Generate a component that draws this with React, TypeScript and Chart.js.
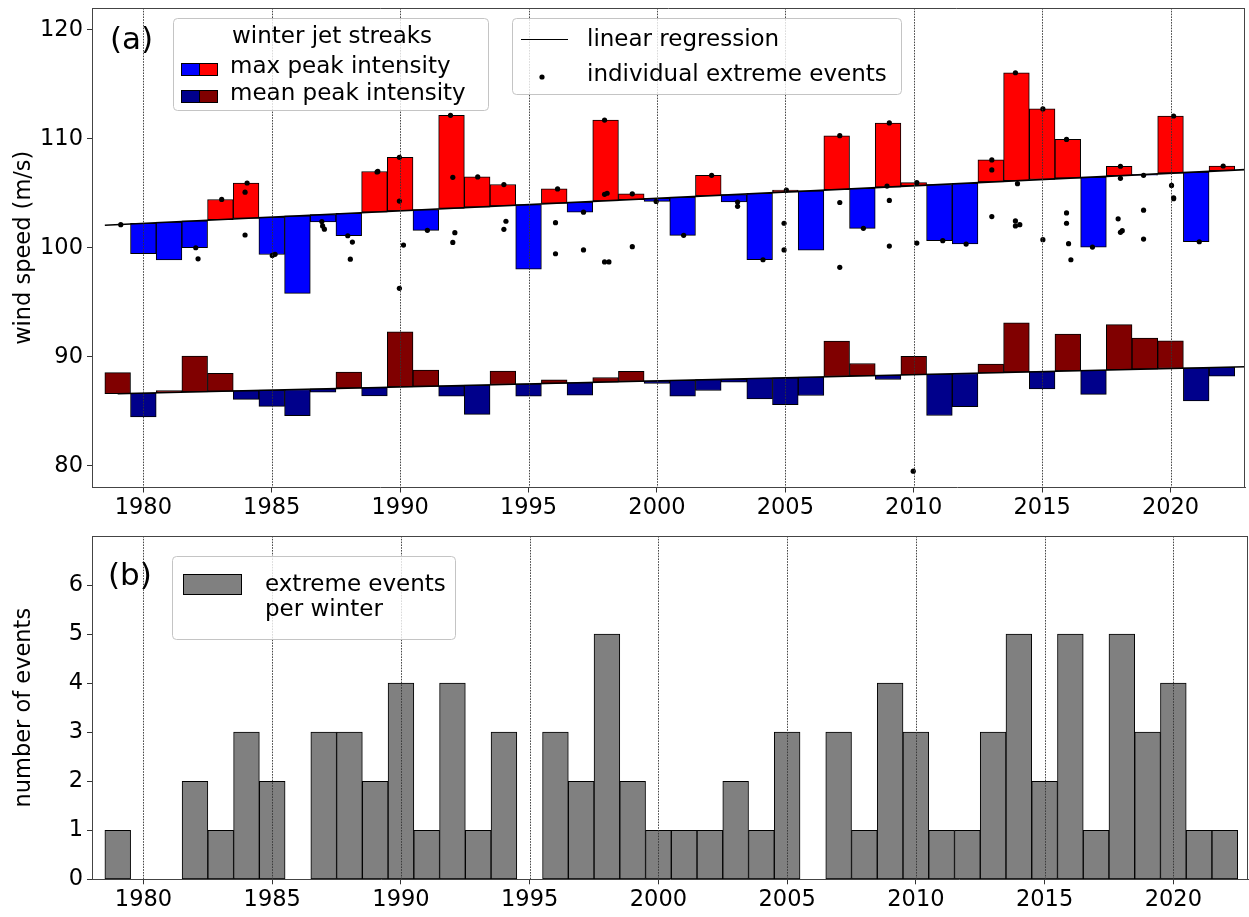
import React, { useEffect, useRef } from "react";
import { Chart, registerables } from "chart.js";

Chart.register(...registerables);

// ---------------- data ----------------
const years = [
  1979, 1980, 1981, 1982, 1983, 1984, 1985, 1986, 1987, 1988,
  1989, 1990, 1991, 1992, 1993, 1994, 1995, 1996, 1997, 1998,
  1999, 2000, 2001, 2002, 2003, 2004, 2005, 2006, 2007, 2008,
  2009, 2010, 2011, 2012, 2013, 2014, 2015, 2016, 2017, 2018,
  2019, 2020, 2021, 2022,
];

const maxPeakIntensity = [
  102.12, 99.45, 98.89, 100.0, 104.43, 105.94, 99.38, 95.82, 102.37, 101.1,
  107.0, 108.3, 101.6, 112.15, 106.5, 105.8, 98.03, 105.4, 103.26, 111.72,
  104.95, 104.25, 101.14, 106.65, 104.2, 98.9, 105.3, 99.78, 110.28, 101.78,
  111.45, 105.97, 100.65, 100.34, 108.06, 116.06, 112.74, 109.94, 100.06, 107.48,
  106.65, 112.09, 100.55, 107.5,
];

const meanPeakIntensity = [
  88.54, 84.47, 86.9, 90.06, 88.48, 86.08, 85.44, 84.59, 86.75, 88.6,
  86.41, 92.28, 88.78, 86.38, 84.71, 88.69, 86.38, 87.87, 86.47, 88.09,
  88.66, 87.55, 86.38, 86.9, 87.67, 86.12, 85.61, 86.44, 91.43, 89.38,
  87.91, 90.04, 84.61, 85.41, 89.33, 93.1, 87.05, 92.08, 86.55, 92.94,
  91.71, 91.46, 85.94, 88.22,
];

const eventsPerWinter = [
  1, 0, 0, 2, 1, 3, 2, 0, 3, 3,
  2, 4, 1, 4, 1, 3, 0, 3, 2, 5,
  2, 1, 1, 1, 2, 1, 3, 0, 3, 1,
  4, 3, 1, 1, 3, 5, 2, 5, 1, 5,
  3, 4, 1, 1,
];

// individual extreme events: time (winter, fractional) and wind speed
const eventTime = [
  1979.12,
  1982.04, 1982.13,
  1983.05,
  1984.04, 1983.96, 1983.96,
  1985.02, 1985.13,
  1986.95, 1986.98, 1987.05,
  1987.96, 1988.14, 1988.06,
  1989.13, 1989.1,
  1989.97, 1989.97, 1990.13, 1989.97,
  1991.06,
  1991.96, 1992.05, 1992.13, 1992.05,
  1993.02,
  1994.04, 1994.12, 1994.04,
  1996.13, 1996.05, 1996.05,
  1997.14, 1997.14,
  1997.96, 1997.96, 1998.06, 1997.96, 1998.13,
  1999.04, 1999.04,
  1999.97,
  2001.04,
  2002.13,
  2003.14, 2003.14,
  2004.13,
  2005.04, 2004.95, 2004.95,
  2007.12, 2007.12, 2007.12,
  2008.04,
  2009.05, 2008.96, 2009.05, 2009.05,
  2010.12, 2010.12, 2009.98,
  2011.13,
  2012.04,
  2013.04, 2013.04, 2013.04,
  2013.96, 2014.04, 2013.96, 2013.96, 2014.13,
  2015.03, 2015.03,
  2015.95, 2015.95, 2015.95, 2016.03, 2016.12,
  2016.96,
  2018.05, 2018.05, 2017.96, 2018.05, 2018.12,
  2018.95, 2018.95, 2018.95,
  2020.12, 2020.04, 2020.12, 2020.12,
  2021.12,
  2022.05,
];

const eventSpeed = [
  102.12,
  100.0, 98.98,
  104.43,
  105.94, 105.1, 101.17,
  99.3, 99.4,
  102.4, 102.0, 101.7,
  101.1, 100.52, 98.95,
  107.0, 106.95,
  108.3, 104.28, 100.25, 96.28,
  101.6,
  112.15, 106.46, 101.38, 100.49,
  106.5,
  105.8, 102.43, 101.69,
  105.4, 102.3, 99.45,
  103.26, 99.8,
  111.72, 104.9, 105.0, 98.7, 98.7,
  104.95, 100.1,
  104.25,
  101.14,
  106.65,
  104.2, 103.8,
  98.9,
  105.3, 102.25, 99.8,
  110.28, 104.15, 98.2,
  101.78,
  111.45, 105.66, 104.34, 100.15,
  105.97, 100.43, 79.5,
  100.65,
  100.34,
  108.06, 107.14, 102.86,
  116.06, 105.88, 102.46, 102.0, 102.12,
  112.74, 100.74,
  109.94, 103.2, 102.25, 100.37, 98.9,
  100.06,
  107.48, 106.37, 102.65, 101.42, 101.57,
  106.65, 103.45, 100.8,
  112.09, 105.72, 104.58, 104.5,
  100.55,
  107.5,
];

// linear regression lines
const trendBaseYear = 1979;
const maxTrendIntercept = 102.12;
const maxTrendSlope = 0.115;
const maxTrendStart = 1978.5;
const meanTrendIntercept = 86.6;
const meanTrendSlope = 0.0565;
const meanTrendStart = 1979;

// ticks
const xTickYears = [1980, 1985, 1990, 1995, 2000, 2005, 2010, 2015, 2020];
const speedTicks = [80, 90, 100, 110, 120];
const countTicks = [0, 1, 2, 3, 4, 5, 6];

// ---------------- styles ----------------
const FONT = '"DejaVu Sans", "Liberation Sans", sans-serif';
const TICK_SIZE = 22.5;
const LEGEND_SIZE = 23;
const W = 1249;
const TOP_H = 520;
const BOT_H = 397;
const AXIS_LEFT = 92;
const X_MIN = 1978;
const X_MAX = 2022.9;

const RED = "#ff0000";
const BLUE = "#0000ff";
const DARK_RED = "#800000";
const DARK_BLUE = "#00008b";
const GRAY = "#808080";
const SPINE = "#444444";

const maxTrend = (y: number) => maxTrendIntercept + maxTrendSlope * (y - trendBaseYear);
const meanTrend = (y: number) => meanTrendIntercept + meanTrendSlope * (y - trendBaseYear);

function legendFrame(ctx: CanvasRenderingContext2D, x: number, y: number, w: number, h: number) {
  ctx.save();
  ctx.beginPath();
  (ctx as any).roundRect(x + 0.5, y + 0.5, w, h, 4);
  ctx.fillStyle = "rgba(255,255,255,0.8)";
  ctx.fill();
  ctx.strokeStyle = "#c4c4c4";
  ctx.lineWidth = 1;
  ctx.stroke();
  ctx.restore();
}

function patch(ctx: CanvasRenderingContext2D, x: number, y: number, w: number, h: number, color: string) {
  ctx.fillStyle = color;
  ctx.fillRect(x, y, w, h);
  ctx.strokeStyle = "#000";
  ctx.lineWidth = 1;
  ctx.strokeRect(x + 0.5, y + 0.5, w - 1, h - 1);
}

function gridLines(chart: any) {
  const { ctx, chartArea: a, scales } = chart;
  const x = scales.x;
  ctx.save();
  ctx.beginPath();
  ctx.rect(a.left, a.top, a.right - a.left, a.bottom - a.top);
  ctx.clip();
  ctx.strokeStyle = "#333";
  ctx.lineWidth = 0.9;
  ctx.setLineDash([1.6, 1.2]);
  for (const t of xTickYears) {
    const px = Math.round(x.getPixelForValue(t)) + 0.5;
    ctx.beginPath();
    ctx.moveTo(px, a.top);
    ctx.lineTo(px, a.bottom);
    ctx.stroke();
  }
  ctx.restore();
}

function spines(chart: any) {
  const { ctx, chartArea: a } = chart;
  ctx.save();
  ctx.strokeStyle = SPINE;
  ctx.lineWidth = 1;
  ctx.beginPath();
  ctx.moveTo(a.left, Math.round(a.top) + 0.5);
  ctx.lineTo(a.right, Math.round(a.top) + 0.5);
  ctx.moveTo(Math.round(a.right) - 0.5, a.top);
  ctx.lineTo(Math.round(a.right) - 0.5, a.bottom);
  ctx.stroke();
  ctx.restore();
}

const topDecor = {
  id: "topDecor",
  afterDatasetsDraw(chart: any) {
    gridLines(chart);
  },
  afterDraw(chart: any) {
    const ctx: CanvasRenderingContext2D = chart.ctx;
    spines(chart);
    ctx.save();
    ctx.fillStyle = "#000";
    ctx.textBaseline = "alphabetic";
    ctx.textAlign = "left";
    ctx.font = `31px ${FONT}`;
    ctx.fillText("(a)", 110, 49);

    // legend 1
    legendFrame(ctx, 173, 18, 315, 92);
    ctx.fillStyle = "#000";
    ctx.font = `${LEGEND_SIZE}px ${FONT}`;
    ctx.textAlign = "center";
    ctx.fillText("winter jet streaks", 332, 43);
    ctx.textAlign = "left";
    patch(ctx, 181, 63, 19, 13, BLUE);
    patch(ctx, 199, 63, 19, 13, RED);
    patch(ctx, 181, 90, 19, 13, DARK_BLUE);
    patch(ctx, 199, 90, 19, 13, DARK_RED);
    ctx.fillStyle = "#000";
    ctx.fillText("max peak intensity", 230, 73);
    ctx.fillText("mean peak intensity", 230, 100);

    // legend 2
    legendFrame(ctx, 512, 18, 389, 76);
    ctx.strokeStyle = "#000";
    ctx.lineWidth = 1.2;
    ctx.beginPath();
    ctx.moveTo(521, 39.5);
    ctx.lineTo(568, 39.5);
    ctx.stroke();
    ctx.beginPath();
    ctx.arc(542, 77, 2.6, 0, Math.PI * 2);
    ctx.fillStyle = "#000";
    ctx.fill();
    ctx.fillText("linear regression", 587, 46);
    ctx.fillText("individual extreme events", 587, 81);
    ctx.restore();
  },
};

const bottomDecor = {
  id: "bottomDecor",
  afterDatasetsDraw(chart: any) {
    gridLines(chart);
  },
  afterDraw(chart: any) {
    const ctx: CanvasRenderingContext2D = chart.ctx;
    spines(chart);
    ctx.save();
    ctx.fillStyle = "#000";
    ctx.textBaseline = "alphabetic";
    ctx.textAlign = "left";
    ctx.font = `31px ${FONT}`;
    ctx.fillText("(b)", 108, 65);

    legendFrame(ctx, 172, 36, 283, 83);
    patch(ctx, 183, 54, 59, 21, GRAY);
    ctx.fillStyle = "#000";
    ctx.font = `${LEGEND_SIZE}px ${FONT}`;
    ctx.fillText("extreme events", 265, 71);
    ctx.fillText("per winter", 265, 96);
    ctx.restore();
  },
};

function xScale(axisHeight: number) {
  return {
    type: "linear" as const,
    min: X_MIN,
    max: X_MAX,
    offset: false,
    afterBuildTicks: (s: any) => {
      s.ticks = xTickYears.map((v) => ({ value: v }));
    },
    afterFit: (s: any) => {
      s.height = axisHeight;
      s.paddingLeft = 0;
      s.paddingRight = 0;
    },
    grid: {
      display: true,
      offset: false,
      drawOnChartArea: false,
      drawTicks: true,
      tickLength: 5,
      tickColor: "#333",
      tickWidth: 1,
    },
    border: { display: true, color: SPINE, width: 1 },
    ticks: {
      color: "#000",
      font: { family: FONT, size: TICK_SIZE },
      padding: 2,
      maxRotation: 0,
      autoSkip: false,
      callback: (v: any) => String(v),
    },
  };
}

function yScale(min: number, max: number, tickVals: number[], title: string) {
  return {
    type: "linear" as const,
    min,
    max,
    afterBuildTicks: (s: any) => {
      s.ticks = tickVals.map((v) => ({ value: v }));
    },
    afterFit: (s: any) => {
      s.width = AXIS_LEFT;
      s.paddingTop = 0;
      s.paddingBottom = 0;
    },
    grid: {
      display: true,
      offset: false,
      drawOnChartArea: false,
      drawTicks: true,
      tickLength: 5,
      tickColor: "#333",
      tickWidth: 1,
    },
    border: { display: true, color: SPINE, width: 1 },
    title: {
      display: true,
      text: title,
      color: "#000",
      font: { family: FONT, size: TICK_SIZE },
      padding: { top: 11, bottom: 0 },
    },
    ticks: {
      color: "#000",
      font: { family: FONT, size: TICK_SIZE },
      padding: 4,
      autoSkip: false,
      callback: (v: any) => String(v),
    },
  };
}

export default function App() {
  const topRef = useRef<HTMLCanvasElement | null>(null);
  const botRef = useRef<HTMLCanvasElement | null>(null);

  useEffect(() => {
    if (!topRef.current || !botRef.current) return;

    const topChart = new Chart(topRef.current, {
      type: "bar",
      data: {
        datasets: [
          {
            type: "scatter",
            label: "individual extreme events",
            data: eventTime.map((t, i) => ({ x: t, y: eventSpeed[i] })),
            pointRadius: 2.6,
            pointBackgroundColor: "#000",
            pointBorderWidth: 0,
            order: 0,
          } as any,
          {
            type: "line",
            label: "linear regression (max)",
            data: [
              { x: maxTrendStart, y: maxTrend(maxTrendStart) },
              { x: X_MAX, y: maxTrend(X_MAX) },
            ],
            borderColor: "#000",
            borderWidth: 1.6,
            pointRadius: 0,
            order: 1,
          } as any,
          {
            type: "line",
            label: "linear regression (mean)",
            data: [
              { x: meanTrendStart, y: meanTrend(meanTrendStart) },
              { x: X_MAX, y: meanTrend(X_MAX) },
            ],
            borderColor: "#000",
            borderWidth: 1.6,
            pointRadius: 0,
            order: 1,
          } as any,
          {
            type: "bar",
            label: "max peak intensity",
            data: years.map((y, i) => ({ x: y, y: [maxTrend(y), maxPeakIntensity[i]] })),
            backgroundColor: years.map((y, i) => (maxPeakIntensity[i] >= maxTrend(y) ? RED : BLUE)),
            borderColor: "#000",
            borderWidth: 1,
            borderSkipped: false,
            barPercentage: 1,
            categoryPercentage: 1,
            grouped: false,
            order: 2,
          } as any,
          {
            type: "bar",
            label: "mean peak intensity",
            data: years.map((y, i) => ({ x: y, y: [meanTrend(y), meanPeakIntensity[i]] })),
            backgroundColor: years.map((y, i) => (meanPeakIntensity[i] >= meanTrend(y) ? DARK_RED : DARK_BLUE)),
            borderColor: "#000",
            borderWidth: 1,
            borderSkipped: false,
            barPercentage: 1,
            categoryPercentage: 1,
            grouped: false,
            order: 2,
          } as any,
        ],
      },
      options: {
        responsive: false,
        animation: false,
        devicePixelRatio: 1,
        events: [],
        layout: { padding: { top: 8, right: 1, left: 0, bottom: 0 } },
        plugins: { legend: { display: false }, tooltip: { enabled: false } },
        scales: {
          x: xScale(TOP_H - 487.5) as any,
          y: yScale(78, 122, speedTicks, "wind speed (m/s)") as any,
        },
      },
      plugins: [topDecor],
    });

    const botChart = new Chart(botRef.current, {
      type: "bar",
      data: {
        datasets: [
          {
            label: "extreme events per winter",
            data: years.map((y, i) => ({ x: y, y: eventsPerWinter[i] })),
            backgroundColor: GRAY,
            borderColor: "#000",
            borderWidth: 1,
            borderSkipped: false,
            barPercentage: 1,
            categoryPercentage: 1,
          } as any,
        ],
      },
      options: {
        responsive: false,
        animation: false,
        devicePixelRatio: 1,
        events: [],
        layout: { padding: { top: 16, right: 1, left: 0, bottom: 0 } },
        plugins: { legend: { display: false }, tooltip: { enabled: false } },
        scales: {
          x: xScale(BOT_H - 359.3) as any,
          y: yScale(0, 7, countTicks, "number of events") as any,
        },
      },
      plugins: [bottomDecor],
    });

    return () => {
      topChart.destroy();
      botChart.destroy();
    };
  }, []);

  return (
    <div
      style={{
        position: "absolute",
        left: 0,
        top: 0,
        width: W,
        height: TOP_H + BOT_H,
        background: "#fff",
        overflow: "hidden",
      }}
    >
      <canvas
        ref={topRef}
        width={W}
        height={TOP_H}
        style={{ position: "absolute", left: 0, top: 0, width: W, height: TOP_H }}
      />
      <canvas
        ref={botRef}
        width={W}
        height={BOT_H}
        style={{ position: "absolute", left: 0, top: TOP_H, width: W, height: BOT_H }}
      />
    </div>
  );
}
